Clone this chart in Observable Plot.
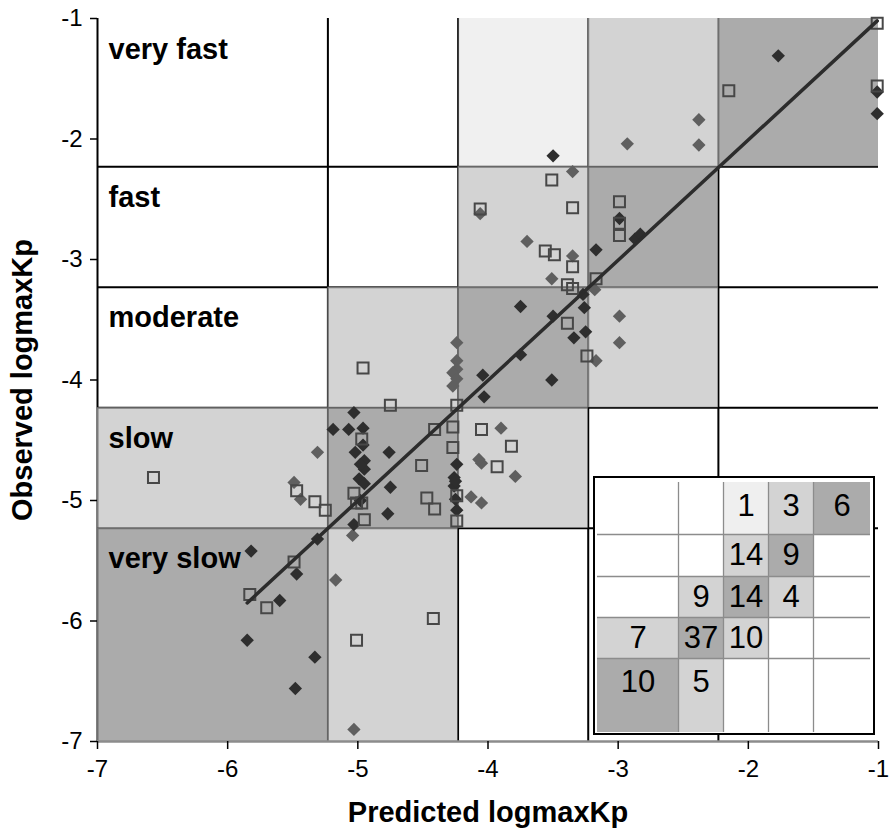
<!DOCTYPE html>
<html>
<head>
<meta charset="utf-8">
<script src="https://cdn.jsdelivr.net/npm/d3@7"></script>
<script src="https://cdn.jsdelivr.net/npm/@observablehq/plot@0.6"></script>
<style>
  body { margin: 0; background: #fff; }
  #chart { position: relative; width: 890px; height: 835px; font-family: "Liberation Sans", Arial, sans-serif; }
  #inset { position: absolute; left: 593px; top: 476px; width: 282px; height: 259px; box-sizing: border-box; border: 2px solid #000; background: #fff; }
  #inset svg, #chart > svg { display: block; }
</style>
</head>
<body>
<div id="chart"><div id="inset"></div></div>
<script>
// Permeability classes on log maxKp (lowest to highest) and their boundaries
const classNames = ["very slow", "slow", "moderate", "fast", "very fast"];
const classBounds = [-7, -5.23, -4.23, -3.23, -2.23, -1];
const axisTicks = [-7, -6, -5, -4, -3, -2, -1];

// Number of compounds per observed class, by predicted class (very slow → very fast)
const countsVeryFast = [0, 0, 1, 3, 6];
const countsFast     = [0, 0, 14, 9, 0];
const countsModerate = [0, 9, 14, 4, 0];
const countsSlow     = [7, 37, 10, 0, 0];
const countsVerySlow = [10, 5, 0, 0, 0];

// Compounds, [predicted, observed]
const darkPoints = [
  [-1.77,-1.31],[-1.01,-1.61],[-1.01,-1.79],[-3.50,-2.14],[-2.87,-2.83],[-2.83,-2.79],
  [-2.99,-2.66],[-3.17,-2.92],[-3.75,-3.39],[-3.50,-3.47],[-3.26,-3.40],[-3.34,-3.65],
  [-3.25,-3.60],[-3.75,-3.79],[-4.04,-3.96],[-3.51,-4.00],[-4.03,-4.14],[-3.27,-3.29],
  [-5.03,-4.27],[-5.19,-4.41],[-5.07,-4.41],[-4.96,-4.40],[-4.96,-4.54],[-5.02,-4.60],
  [-4.76,-4.60],[-4.95,-4.67],[-4.95,-4.74],[-4.99,-4.82],[-4.95,-4.86],[-4.75,-4.89],
  [-4.24,-4.70],[-4.26,-4.81],[-4.26,-4.88],[-4.24,-5.08],[-4.98,-5.00],[-4.77,-5.11],
  [-5.03,-5.20],[-4.25,-4.84],[-4.25,-4.99],[-4.98,-4.70],[-5.31,-5.32],[-5.47,-5.61],
  [-5.82,-5.42],[-5.60,-5.83],[-5.85,-6.16],[-5.33,-6.30],[-5.48,-6.56]
];
const grayPoints = [
  [-2.38,-1.84],[-2.93,-2.04],[-2.38,-2.05],[-3.35,-2.27],[-4.06,-2.62],[-3.70,-2.85],
  [-3.35,-2.97],[-3.51,-3.16],[-3.18,-3.25],[-2.99,-3.47],[-2.99,-3.69],[-3.17,-3.84],
  [-4.24,-3.69],[-4.24,-3.84],[-4.24,-3.91],[-4.27,-3.94],[-4.24,-3.99],[-4.27,-4.05],
  [-3.90,-4.40],[-4.05,-4.69],[-4.07,-4.66],[-3.79,-4.80],[-4.13,-4.97],[-4.05,-5.02],
  [-5.31,-4.60],[-5.49,-4.85],[-5.44,-4.99],[-5.17,-5.66],[-5.03,-6.90],[-5.04,-5.29]
];
const openPoints = [
  [-1.01,-1.04],[-2.15,-1.60],[-1.01,-1.56],[-3.51,-2.34],[-4.06,-2.58],[-3.35,-2.57],
  [-2.99,-2.52],[-2.99,-2.70],[-2.99,-2.80],[-3.56,-2.93],[-3.49,-2.96],[-3.35,-3.06],
  [-3.39,-3.21],[-3.35,-3.24],[-3.17,-3.16],[-3.39,-3.53],[-3.24,-3.80],[-4.24,-4.21],
  [-4.96,-3.90],[-4.75,-4.21],[-4.05,-4.41],[-3.82,-4.55],[-3.93,-4.72],[-4.97,-4.49],
  [-4.51,-4.71],[-4.41,-4.41],[-4.27,-4.39],[-4.27,-4.56],[-4.24,-4.96],[-4.24,-5.17],
  [-5.03,-4.94],[-5.01,-5.02],[-4.97,-5.02],[-4.95,-5.16],[-4.47,-4.98],[-4.41,-5.07],
  [-6.57,-4.81],[-5.47,-4.92],[-5.33,-5.01],[-5.25,-5.08],[-5.49,-5.51],[-5.83,-5.78],
  [-5.70,-5.89],[-4.42,-5.98],[-5.01,-6.16]
];

// Fitted line ends
const fitLine = [[-5.85, -5.85], [-1.01, -1.02]];

// ---- derived tables ----
const countsByObserved = [countsVerySlow, countsSlow, countsModerate, countsFast, countsVeryFast];
const cells = [];
countsByObserved.forEach((row, i) => row.forEach((n, j) => {
  if (n > 0) cells.push({obs: i, pred: j, n, dist: Math.abs(i - j),
    x1: classBounds[j], x2: classBounds[j + 1], y1: classBounds[i], y2: classBounds[i + 1]});
}));

// translucent shading so the class lines beneath read as grey inside the shaded cells
const shadeMain = [
  {fill: "#919191", opacity: 0.76},
  {fill: "#bcbcbc", opacity: 0.65},
  {fill: "#cdcdcd", opacity: 0.3}
];
const shadeTable = ["#ababab", "#d3d3d3", "#efefef"];

const labelRows = classNames.map((name, k) => ({name, top: classBounds[k + 1]}));
const font = "'Liberation Sans', Arial, sans-serif";

const main = Plot.plot({
  width: 890, height: 835,
  marginLeft: 97, marginRight: 12, marginTop: 18, marginBottom: 94,
  style: {fontFamily: font, background: "#fff", overflow: "visible", color: "#000"},
  x: {domain: [-7, -1]},
  y: {domain: [-7, -1]},
  marks: [
    Plot.ruleX([-7], {stroke: "#000", strokeWidth: 2}),
    Plot.ruleY(classBounds.slice(1, -1), {stroke: "#000", strokeWidth: 2}),
    Plot.ruleX(classBounds.slice(1, -1), {stroke: "#000", strokeWidth: 2}),
    ...shadeMain.map((s, d) => Plot.rect(cells.filter(c => c.dist === d), {
      x1: "x1", x2: "x2", y1: "y1", y2: "y2", fill: s.fill, fillOpacity: s.opacity
    })),
    Plot.ruleY([-7], {stroke: "#8c8c8c", strokeWidth: 2.5}),
    Plot.axisY({ticks: axisTicks, tickSize: 7, tickPadding: 8, fontSize: 24, strokeWidth: 1.5,
      tickFormat: d => String(d), label: null}),
    Plot.axisX({ticks: axisTicks, tickSize: 8, tickPadding: 10, fontSize: 24, strokeWidth: 1.5,
      tickFormat: d => String(d), label: null}),
    Plot.text(labelRows, {y: "top", text: "name", frameAnchor: "left", textAnchor: "start",
      lineAnchor: "bottom", dx: 11, dy: 40, fontSize: 29, fontWeight: "bold", fill: "#000"}),
    Plot.dot(grayPoints, {x: d => d[0], y: d => d[1], symbol: "diamond2", r: 6, fill: "#5f5f5f", stroke: "none"}),
    Plot.dot(darkPoints, {x: d => d[0], y: d => d[1], symbol: "diamond2", r: 6, fill: "#2e2e2e", stroke: "none"}),
    Plot.dot(openPoints, {x: d => d[0], y: d => d[1], symbol: "square", r: 6.2, fill: "none", stroke: "#474747", strokeWidth: 2}),
    Plot.line(fitLine, {x: d => d[0], y: d => d[1], stroke: "#2c2c2c", strokeWidth: 3.5}),
    Plot.text(["Observed logmaxKp"], {frameAnchor: "left", rotate: -90, dx: -75, fontSize: 29,
      fontWeight: "bold", textAnchor: "middle", lineAnchor: "middle", fill: "#000"}),
    Plot.text(["Predicted logmaxKp"], {frameAnchor: "bottom", dy: 80, fontSize: 29,
      fontWeight: "bold", textAnchor: "middle", lineAnchor: "bottom", fill: "#000"})
  ]
});
document.getElementById("chart").insertBefore(main, document.getElementById("inset"));

// ---- contingency table ----
const colWidths = [81, 45, 45, 45, 57];
const rowHeights = [52, 42, 41, 41, 74];
const colEdges = colWidths.reduce((a, w) => (a.push(a[a.length - 1] + w), a), [0]);
const rowEdges = rowHeights.reduce((a, h) => (a.push(a[a.length - 1] + h), a), [0]);
const tableCells = [];
countsByObserved.forEach((row, i) => row.forEach((n, j) => {
  if (n > 0) {
    const r = 4 - i;
    tableCells.push({n, dist: Math.abs(i - j),
      x1: colEdges[j], x2: colEdges[j + 1], y1: rowEdges[r], y2: rowEdges[r + 1],
      tx: (colEdges[j] + colEdges[j + 1]) / 2,
      ty: rowEdges[r] + Math.min(rowHeights[r] / 2, 24)});
  }
}));

const table = Plot.plot({
  width: 278, height: 255,
  marginLeft: 2, marginRight: 3, marginTop: 4, marginBottom: 1,
  style: {fontFamily: font, background: "#fff", overflow: "visible", color: "#000"},
  x: {domain: [0, colEdges[colEdges.length - 1]], axis: null},
  y: {domain: [0, rowEdges[rowEdges.length - 1]], reverse: true, axis: null},
  marks: [
    ...shadeTable.map((fill, d) => Plot.rect(tableCells.filter(c => c.dist === d), {
      x1: "x1", x2: "x2", y1: "y1", y2: "y2", fill
    })),
    Plot.ruleX(colEdges.slice(1, -1), {y1: 0, y2: rowEdges[rowEdges.length - 1], stroke: "#8c8c8c", strokeWidth: 1.3}),
    Plot.ruleY(rowEdges.slice(1, -1), {x1: 0, x2: colEdges[colEdges.length - 1], stroke: "#8c8c8c", strokeWidth: 1.3}),
    Plot.text(tableCells, {x: "tx", y: "ty", text: d => String(d.n), fontSize: 31,
      textAnchor: "middle", lineAnchor: "middle", fill: "#000"})
  ]
});
document.getElementById("inset").appendChild(table);
</script>
</body>
</html>
